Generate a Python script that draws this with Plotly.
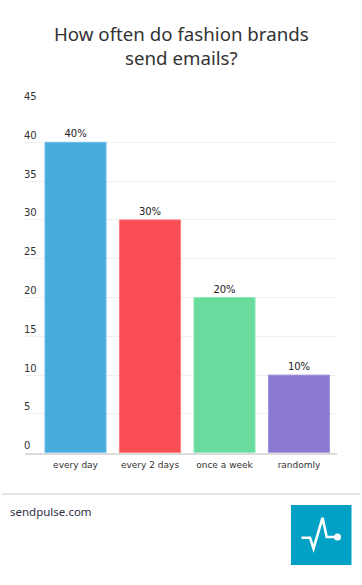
import plotly.graph_objects as go

W, H = 362, 585

categories = ["every day", "every 2 days", "once a week", "randomly"]
values = [40, 30, 20, 10]
value_labels = ["40%", "30%", "20%", "10%"]
bar_colors = ["#4aabdd", "#fa4e56", "#69db9c", "#8a79cf"]
edge_colors = ["#70c0ea", "#fd7a80", "#8fe8b8", "#a495dc"]
y_ticks = [0, 5, 10, 15, 20, 25, 30, 35, 40, 45]
title_text = "How often do fashion brands<br>send emails?"
footer_text = "sendpulse.com"

def px(x):
    return x / W

def py(y):
    return 1 - y / H

plot_left, plot_right = 25, 337
plot_top, plot_bottom = 103.5, 452.7

fig = go.Figure()
fig.add_trace(go.Bar(
    x=categories, y=values,
    marker=dict(color=bar_colors, line=dict(color=edge_colors, width=1)),
    width=0.82,
    text=value_labels, textposition="outside",
    textfont=dict(family="DejaVu Sans", size=10, color="#222"),
    cliponaxis=False,
))

annotations = []
for t in y_ticks:
    annotations.append(dict(
        x=px(22), xref="paper", xanchor="left",
        y=t, yref="y", yanchor="middle", yshift=7,
        text=str(t), showarrow=False,
        font=dict(family="DejaVu Sans", size=10, color="#333"),
    ))

annotations.append(dict(
    x=0.5, xref="paper", xanchor="center",
    y=py(46), yref="paper", yanchor="middle",
    text=title_text, showarrow=False,
    font=dict(family="Noto Sans", size=18.7, color="#333"),
))
annotations.append(dict(
    x=px(8), xref="paper", xanchor="left",
    y=py(511), yref="paper", yanchor="middle",
    text=footer_text, showarrow=False,
    font=dict(family="Noto Sans", size=11.5, color="#2f2f45"),
))

shapes = [
    dict(type="line", xref="paper", yref="paper",
         x0=px(2), x1=px(360), y0=py(494), y1=py(494),
         line=dict(color="#c8c8c8", width=1)),
    dict(type="rect", xref="paper", yref="paper",
         x0=px(291), x1=px(351.5), y0=py(565), y1=py(505),
         fillcolor="#00a1c4", line=dict(width=0)),
    dict(type="path", xref="paper", yref="paper",
         path="M {} {} L {} {} L {} {} L {} {} L {} {} L {} {}".format(
             px(301.5), py(537.7), px(310), py(537.7), px(313.5), py(548.5),
             px(322.5), py(517.8), px(326.7), py(537), px(337.3), py(537)),
         line=dict(color="white", width=2.6)),
    dict(type="circle", xref="paper", yref="paper",
         x0=px(334), x1=px(341), y0=py(533.5), y1=py(540.5),
         fillcolor="white", line=dict(width=0)),
]

fig.update_layout(
    width=W, height=H,
    margin=dict(l=0, r=0, t=0, b=0),
    paper_bgcolor="white", plot_bgcolor="white",
    showlegend=False,
    annotations=annotations,
    shapes=shapes,
    xaxis=dict(
        domain=[px(plot_left), px(plot_right)],
        range=[-0.678, 3.51],
        showgrid=False, zeroline=False,
        showline=True, linecolor="#dcdcdc", linewidth=2,
        ticks="", tickfont=dict(family="DejaVu Sans", size=9, color="#333"),
        ticklabelstandoff=2,
        fixedrange=True,
    ),
    yaxis=dict(
        domain=[py(plot_bottom), py(plot_top)],
        range=[0, 45],
        tickvals=y_ticks, showticklabels=False,
        showgrid=True, gridcolor="#f0f0f0", gridwidth=1,
        zeroline=False, showline=False, ticks="",
        fixedrange=True,
    ),
)

fig.write_html(
    "out.html",
    config={"displayModeBar": False},
    post_script="document.body.style.margin='0';document.documentElement.style.overflow='hidden';",
)
